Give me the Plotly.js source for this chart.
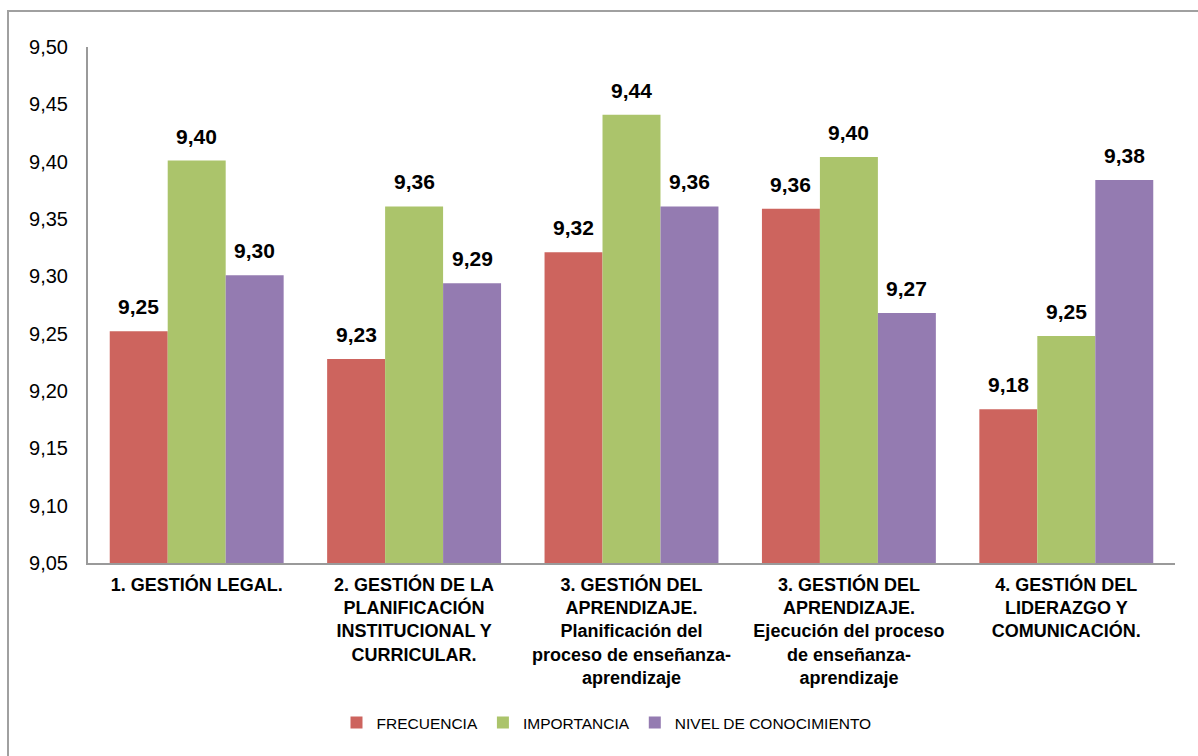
<!DOCTYPE html>
<html>
<head>
<meta charset="utf-8">
<script src="https://cdn.plot.ly/plotly-3.0.1.min.js"></script>
<style>
html,body{margin:0;padding:0;background:#fff;overflow:hidden;}
#chart{width:1198px;height:756px;}
</style>
</head>
<body>
<div id="chart"></div>
<script>
const categories = [
  "1. GESTIÓN LEGAL.",
  "2. GESTIÓN DE LA<br>PLANIFICACIÓN<br>INSTITUCIONAL Y<br>CURRICULAR.",
  "3. GESTIÓN DEL<br>APRENDIZAJE.<br>Planificación del<br>proceso de enseñanza-<br>aprendizaje",
  "3. GESTIÓN DEL<br>APRENDIZAJE.<br>Ejecución del proceso<br>de enseñanza-<br>aprendizaje",
  "4. GESTIÓN DEL<br>LIDERAZGO Y<br>COMUNICACIÓN."
];
const seriesNames = ["FRECUENCIA", "IMPORTANCIA", "NIVEL DE CONOCIMIENTO"];
const frecuencia = [9.252, 9.228, 9.321, 9.359, 9.184];
const importancia = [9.401, 9.361, 9.441, 9.404, 9.248];
const nivel = [9.301, 9.294, 9.361, 9.268, 9.384];
const tickVals = [9.05, 9.10, 9.15, 9.20, 9.25, 9.30, 9.35, 9.40, 9.45, 9.50];

const colors = ["#CD645E", "#ABC46B", "#947BB1"];
const seriesData = [frecuencia, importancia, nivel];

const traces = seriesData.map((vals, j) => ({
  type: "bar",
  name: seriesNames[j],
  x: categories,
  y: vals,
  base: 0,
  marker: {color: colors[j]},
  hoverinfo: "skip"
}));

const bw = 0.8 / 3;
const annotations = [];
seriesData.forEach((vals, j) => {
  vals.forEach((v, i) => {
    annotations.push({
      xref: "x", yref: "y",
      x: i + (j - 1) * bw,
      y: v,
      yanchor: "bottom",
      yshift: 11,
      showarrow: false,
      text: v.toFixed(2).replace(".", ","),
      font: {family: "Liberation Sans, Arial, sans-serif", size: 21, color: "#000", weight: "bold"}
    });
  });
});

const layout = {
  width: 1198, height: 756,
  margin: {l: 88, r: 23, t: 47, b: 193},
  paper_bgcolor: "#fff",
  plot_bgcolor: "#fff",
  separators: ",.",
  bargap: 0.2,
  bargroupgap: 0,
  barmode: "group",
  font: {family: "Liberation Sans, Arial, sans-serif", color: "#000"},
  xaxis: {
    type: "category",
    showgrid: false,
    showline: true,
    linecolor: "#9a9a9a",
    linewidth: 2,
    ticks: "",
    tickangle: 0,
    tickfont: {size: 18, weight: "bold", color: "#000"},
    ticklabelstandoff: 4
  },
  yaxis: {
    range: [9.05, 9.50],
    tickvals: tickVals,
    ticktext: tickVals.map(v => v.toFixed(2).replace(".", ",")),
    showgrid: false,
    zeroline: false,
    showline: true,
    linecolor: "#9a9a9a",
    linewidth: 2,
    ticks: "",
    tickfont: {size: 20, color: "#000"},
    ticklabelstandoff: 14
  },
  legend: {
    orientation: "h",
    x: 0.477, xanchor: "center",
    y: -0.31, yanchor: "middle",
    font: {size: 15.5, color: "#000"},
    itemwidth: 30,
    traceorder: "normal"
  },
  annotations: annotations,
  shapes: [{
    type: "rect", xref: "paper", yref: "paper",
    x0: -0.0736, x1: 1.1, y0: -0.5, y1: 1.0698,
    line: {color: "#a0a0a0", width: 2},
    fillcolor: "rgba(0,0,0,0)",
    layer: "below"
  }],
  showlegend: true
};

Plotly.newPlot("chart", traces, layout, {displayModeBar: false, staticPlot: true});
</script>
</body>
</html>
